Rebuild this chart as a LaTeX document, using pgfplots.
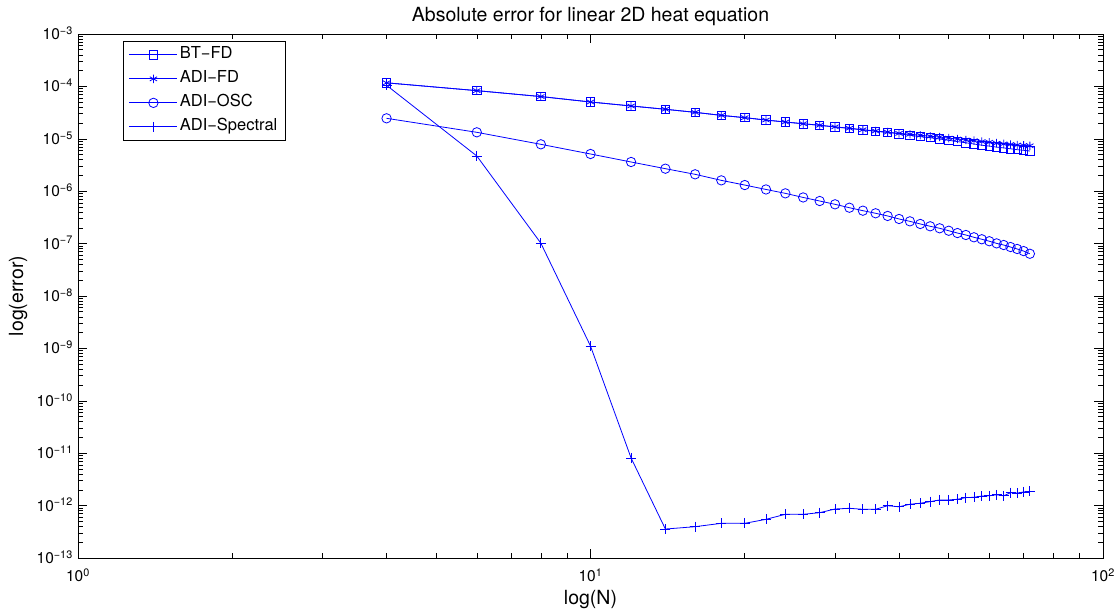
\documentclass[border=0pt]{standalone}
\usepackage{pgfplots}
\pgfplotsset{compat=1.18}
\usepackage{fontspec}
\setmainfont{TeX Gyre Heros}
\newcommand{\fs}{\fontsize{16.5}{19.8}\selectfont}
\newcommand{\lfs}{\fontsize{19.5}{23}\selectfont}
\newcommand{\tfs}{\fontsize{15.5}{18}\selectfont}
\begin{document}
\begin{tikzpicture}
\begin{loglogaxis}[
  scale only axis, width=1025pt, height=524pt,
  xmin=1, xmax=100, ymin=1e-13, ymax=1e-3,
  axis line style={black, line width=0.8pt},
  xtick={1,10,100},
  xticklabels={10\textsuperscript{0},10\textsuperscript{1},10\textsuperscript{2}},
  ytick={1e-13,1e-12,1e-11,1e-10,1e-9,1e-8,1e-7,1e-6,1e-5,1e-4,1e-3},
  yticklabels={10\textsuperscript{−13},10\textsuperscript{−12},10\textsuperscript{−11},10\textsuperscript{−10},10\textsuperscript{−9},10\textsuperscript{−8},10\textsuperscript{−7},10\textsuperscript{−6},10\textsuperscript{−5},10\textsuperscript{−4},10\textsuperscript{−3}},
  minor xtick={2,3,4,5,6,7,8,9,20,30,40,50,60,70,80,90},
  minor ytick={2e-13,3e-13,4e-13,5e-13,6e-13,7e-13,8e-13,9e-13,
    2e-12,3e-12,4e-12,5e-12,6e-12,7e-12,8e-12,9e-12,
    2e-11,3e-11,4e-11,5e-11,6e-11,7e-11,8e-11,9e-11,
    2e-10,3e-10,4e-10,5e-10,6e-10,7e-10,8e-10,9e-10,
    2e-9,3e-9,4e-9,5e-9,6e-9,7e-9,8e-9,9e-9,
    2e-8,3e-8,4e-8,5e-8,6e-8,7e-8,8e-8,9e-8,
    2e-7,3e-7,4e-7,5e-7,6e-7,7e-7,8e-7,9e-7,
    2e-6,3e-6,4e-6,5e-6,6e-6,7e-6,8e-6,9e-6,
    2e-5,3e-5,4e-5,5e-5,6e-5,7e-5,8e-5,9e-5,
    2e-4,3e-4,4e-4,5e-4,6e-4,7e-4,8e-4,9e-4},
  tick align=inside,
  major tick length=9pt, minor tick length=5pt,
  every tick/.style={black, line width=0.6pt},
  xticklabel style={font=\tfs, anchor=base, inner sep=0pt, yshift=-24pt},
  yticklabel style={font=\tfs, anchor=base east, inner sep=0pt, xshift=-5pt, yshift=-5.5pt},
  title={Absolute error for linear 2D heat equation},
  every axis title/.style={font=\lfs, at={(axis description cs:0.5,1.0)}, anchor=base, yshift=13pt, inner sep=0pt},
  xlabel={log(N)},
  every axis x label/.style={font=\lfs, at={(axis description cs:0.5,-0.080)}, anchor=center},
  ylabel={log(error)},
  every axis y label/.style={font=\lfs, at={(axis description cs:-0.0585,0.5)}, anchor=center, rotate=90},
  legend style={at={(0.0436,0.9866)}, anchor=north west, draw=black, line width=0.7pt,
    fill=white, font=\fs, inner xsep=6pt, inner ysep=4pt, row sep=5pt,
    nodes={inner sep=2pt, text height=11.5pt, text depth=3.5pt}},
  legend cell align=left,
  legend image code/.code={\draw[mark repeat=2,mark phase=2] plot coordinates {(0pt,0pt)(24pt,0pt)(48pt,0pt)};},
]
\addplot[color=blue, line width=0.8pt, mark=square, mark size=4.2pt, mark options={solid, fill=none, line width=0.8pt}] coordinates {
(4,1.17e-4)(6,8.3e-5)(8,6.4e-5)(10,5.04e-5)(12,4.23e-5)(14,3.66e-5)(16,3.2e-5)(18,2.8e-5)
(20,2.53e-5)(22,2.28e-5)(24,2.09e-5)(26,1.94e-5)(28,1.81e-5)(30,1.68e-5)(32,1.58e-5)(34,1.48e-5)
(36,1.39e-5)(38,1.32e-5)(40,1.25e-5)(42,1.17e-5)(44,1.10e-5)(46,1.05e-5)(48,9.9e-6)(50,9.35e-6)
(52,8.85e-6)(54,8.4e-6)(56,7.96e-6)(58,7.55e-6)(60,7.25e-6)(62,6.95e-6)(64,6.7e-6)(66,6.45e-6)
(68,6.2e-6)(70,6.03e-6)(72,5.85e-6)};
\addlegendentry{BT−FD}
\addplot[color=blue, line width=0.8pt, mark=asterisk, mark size=4.2pt, mark options={solid, line width=0.8pt}] coordinates {
(4,1.17e-4)(6,8.3e-5)(8,6.4e-5)(10,5.04e-5)(12,4.23e-5)(14,3.66e-5)(16,3.2e-5)(18,2.8e-5)
(20,2.53e-5)(22,2.28e-5)(24,2.09e-5)(26,1.94e-5)(28,1.81e-5)(30,1.69e-5)(32,1.59e-5)(34,1.49e-5)
(36,1.41e-5)(38,1.34e-5)(40,1.27e-5)(42,1.22e-5)(44,1.17e-5)(46,1.12e-5)(48,1.08e-5)(50,1.03e-5)
(52,9.9e-6)(54,9.5e-6)(56,9.2e-6)(58,8.85e-6)(60,8.6e-6)(62,8.25e-6)(64,8.0e-6)(66,7.8e-6)
(68,7.6e-6)(70,7.5e-6)(72,7.35e-6)};
\addlegendentry{ADI−FD}
\addplot[color=blue, line width=0.8pt, mark=o, mark size=4.7pt, mark options={solid, fill=none, line width=0.8pt}] coordinates {
(4,2.46e-5)(6,1.33e-5)(8,7.85e-6)(10,5.13e-6)(12,3.61e-6)(14,2.69e-6)(16,2.1e-6)(18,1.61e-6)
(20,1.31e-6)(22,1.08e-6)(24,9.1e-7)(26,7.6e-7)(28,6.5e-7)(30,5.62e-7)(32,4.84e-7)(34,4.25e-7)
(36,3.79e-7)(38,3.37e-7)(40,2.95e-7)(42,2.66e-7)(44,2.37e-7)(46,2.14e-7)(48,1.96e-7)(50,1.76e-7)
(52,1.59e-7)(54,1.46e-7)(56,1.32e-7)(58,1.21e-7)(60,1.11e-7)(62,1.01e-7)(64,9.4e-8)(66,8.6e-8)
(68,7.9e-8)(70,7.2e-8)(72,6.4e-8)};
\addlegendentry{ADI−OSC}
\addplot[color=blue, line width=0.8pt, mark=+, mark size=5pt, mark options={solid, line width=0.8pt}] coordinates {
(4,1.05e-4)(6,4.7e-6)(8,1.02e-7)(10,1.11e-9)(12,8.1e-12)(14,3.57e-13)(16,3.96e-13)(18,4.59e-13)
(20,4.59e-13)(22,5.47e-13)(24,6.82e-13)(26,6.82e-13)(28,7.33e-13)(30,8.61e-13)(32,8.88e-13)(34,8.5e-13)
(36,8.5e-13)(38,9.95e-13)(40,9.5e-13)(42,1.06e-12)(44,1.11e-12)(46,1.19e-12)(48,1.28e-12)(50,1.28e-12)
(52,1.32e-12)(54,1.42e-12)(56,1.44e-12)(58,1.52e-12)(60,1.54e-12)(62,1.61e-12)(64,1.54e-12)(66,1.76e-12)
(68,1.73e-12)(70,1.82e-12)(72,1.87e-12)};
\addlegendentry{ADI−Spectral}
\end{loglogaxis}
\pgfresetboundingbox
\path[use as bounding box] ([shift={(-78pt,-55pt)}]current axis.south west) rectangle ([shift={(15pt,34pt)}]current axis.north east);
\end{tikzpicture}
\end{document}
